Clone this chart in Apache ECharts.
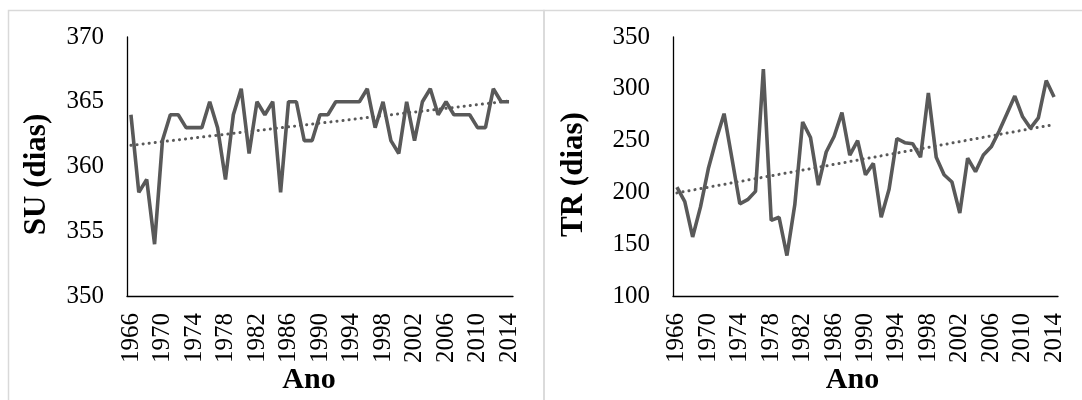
<!DOCTYPE html>
<html>
<head>
<meta charset="utf-8">
<script src="https://cdn.jsdelivr.net/npm/echarts@6/dist/echarts.min.js"></script>
<style>
html,body{margin:0;padding:0;background:#fff;}
#chart{width:1082px;height:400px;}
</style>
</head>
<body>
<div id="chart"></div>
<script>
// anos 1966-2014
var years = [];
for (var y = 1966; y <= 2014; y++) years.push(String(y));

var suValues = [364, 358, 359, 354, 362, 364, 364, 363, 363, 363,
    365, 363, 359, 364, 366, 361, 365, 364, 365, 358,
    365, 365, 362, 362, 364, 364, 365, 365, 365, 365,
    366, 363, 365, 362, 361, 365, 362, 365, 366, 364,
    365, 364, 364, 364, 363, 363, 366, 365, 365];

var trValues = [205, 191, 157, 186, 223, 251, 276, 233, 189, 193,
    201, 319, 173, 176, 139, 188, 268, 253, 207, 239,
    254, 277, 236, 250, 217, 228, 176, 203, 252, 248,
    247, 234, 296, 234, 217, 210, 180, 233, 220, 236,
    244, 259, 276, 293, 273, 262, 272, 308, 292];

// tendencia linear (minimos quadrados), como no Excel
var trend = function (vals) {
    var n = vals.length, sx = 0, sy = 0, sxy = 0, sxx = 0;
    for (var i = 0; i < n; i++) {
        sx += i; sy += vals[i]; sxy += i * vals[i]; sxx += i * i;
    }
    var b = (n * sxy - sx * sy) / (n * sxx - sx * sx);
    var a = (sy - b * sx) / n;
    var out = [];
    for (var j = 0; j < n; j++) out.push(+(a + b * j).toFixed(3));
    return out;
};

var FONT = "'Liberation Serif', 'Times New Roman', serif";
var LINE = '#595959';

var xAxisFor = function (idx, padRight) {
    return {
        type: 'category',
        gridIndex: idx,
        data: years,
        boundaryGap: true,
        name: 'Ano',
        nameLocation: 'middle',
        nameGap: 69,
        nameMoveOverlap: false,
        nameTextStyle: {fontFamily: FONT, fontSize: 30, fontWeight: 'bold', color: '#000', padding: [0, padRight, 0, 0]},
        axisLine: {lineStyle: {color: '#000', width: 1.3}},
        axisTick: {show: false},
        axisLabel: {interval: 3, rotate: 90, margin: 17, fontFamily: FONT, fontSize: 25, color: '#000'}
    };
};

var yAxisFor = function (idx, name, min, max, step, gap) {
    return {
        type: 'value',
        gridIndex: idx,
        min: min,
        max: max,
        interval: step,
        name: name,
        nameLocation: 'middle',
        nameGap: gap,
        nameMoveOverlap: false,
        nameTextStyle: {fontFamily: FONT, fontSize: 31, fontWeight: 'bold', color: '#000', padding: [0, 16, 0, 0]},
        axisLine: {show: true, lineStyle: {color: '#000', width: 1.3}},
        axisTick: {show: false},
        splitLine: {show: false},
        axisLabel: {margin: 23, fontFamily: FONT, fontSize: 25, color: '#000'}
    };
};

var lineSeries = function (idx, vals) {
    return {
        type: 'line',
        xAxisIndex: idx,
        yAxisIndex: idx,
        data: vals,
        symbol: 'none',
        lineStyle: {color: LINE, width: 3.6},
        z: 3
    };
};

var trendSeries = function (idx, vals) {
    return {
        type: 'line',
        xAxisIndex: idx,
        yAxisIndex: idx,
        data: trend(vals),
        symbol: 'none',
        lineStyle: {color: LINE, width: 3, type: [0.1, 6], cap: 'round'},
        z: 2
    };
};

var option = {
    animation: false,
    backgroundColor: '#fff',
    graphic: [
        {type: 'rect', shape: {x: 8.5, y: 10.5, width: 535.5, height: 400}, style: {fill: 'none', stroke: '#d9d9d9', lineWidth: 1.5}},
        {type: 'rect', shape: {x: 544, y: 10.5, width: 545, height: 400}, style: {fill: 'none', stroke: '#d9d9d9', lineWidth: 1.5}}
    ],
    grid: [
        {left: 127, top: 37, width: 386, height: 262},
        {left: 673, top: 37, width: 385, height: 262}
    ],
    xAxis: [xAxisFor(0, 22), xAxisFor(1, 26)],
    yAxis: [
        yAxisFor(0, 'SU (dias)', 350, 370, 5, 75),
        yAxisFor(1, 'TR (dias)', 100, 350, 50, 84)
    ],
    series: [
        lineSeries(0, suValues),
        trendSeries(0, suValues),
        lineSeries(1, trValues),
        trendSeries(1, trValues)
    ]
};

var chart = echarts.init(document.getElementById('chart'), null, {renderer: 'canvas'});
chart.setOption(option);
</script>
</body>
</html>
